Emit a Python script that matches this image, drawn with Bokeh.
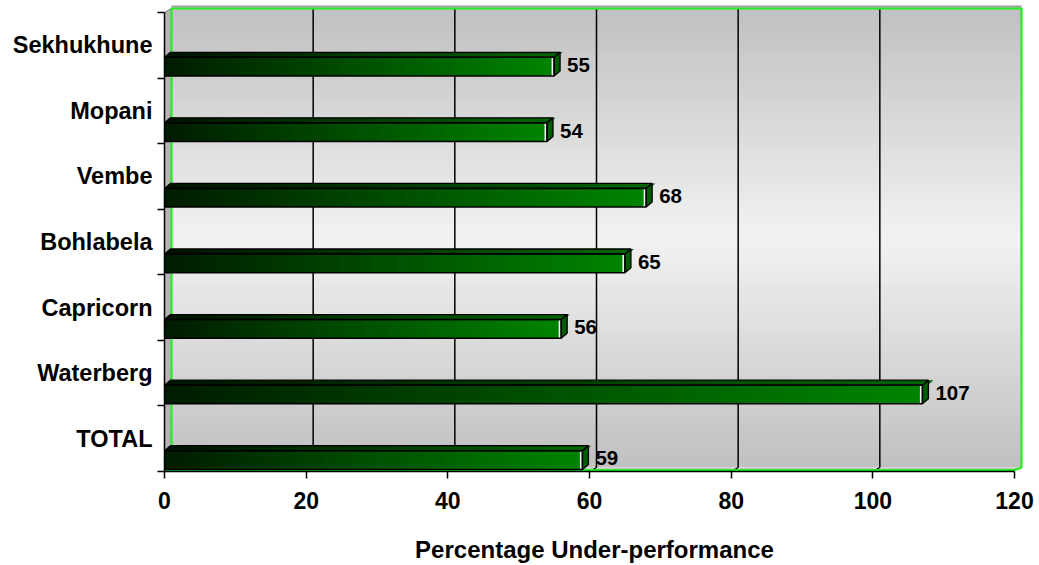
import numpy as np
from bokeh.plotting import figure
from bokeh.models import Range1d, FixedTicker
from bokeh.embed import file_html
from bokeh.resources import INLINE
from bokeh.core.properties import value

# ---- data -------------------------------------------------------------
districts = ["TOTAL", "Waterberg", "Capricorn", "Bohlabela", "Vembe", "Mopani", "Sekhukhune"]
underperformance = [59, 107, 56, 65, 68, 54, 55]
x_ticks = [0, 20, 40, 60, 80, 100, 120]
x_title = "Percentage Under-performance"

# ---- geometry ---------------------------------------------------------
W, H = 1039, 565
LEFT, RIGHT_PAD, TOP, BOTTOM = 164, 15, 4, 94
X_MAX = x_ticks[-1]
AXIS_PX = 850                      # pixels between 0 and X_MAX
px_x = AXIS_PX / X_MAX
frame_w = W - LEFT - RIGHT_PAD
n = len(districts)
px_y = 459 / n                     # pixels per category band
frame_h = H - TOP - BOTTOM
y0 = -0.5
x_end = frame_w / px_x
y_end = y0 + frame_h / px_y

# 3-D depth offsets (pixels converted to data units)
WALL_DX, WALL_DY = 7 / px_x, 4 / px_y
BAR_DX, BAR_DY = 6 / px_x, 5 / px_y
FACE_LO, FACE_HI = 0.468, 0.183    # front face below the band centre

FONT = "Liberation Sans"


def hex2rgb(h):
    h = h.lstrip("#")
    return np.array([int(h[i:i + 2], 16) for i in (0, 2, 4)], dtype=float)


def lerp(c1, c2, t):
    a, b = hex2rgb(c1), hex2rgb(c2)
    c = np.clip(np.round(a + (b - a) * t), 0, 255).astype(int)
    return "#%02x%02x%02x" % tuple(c)


p = figure(width=W, height=H, output_backend="svg", toolbar_location=None,
           x_range=Range1d(0, x_end), y_range=Range1d(y0, y_end),
           min_border_left=LEFT, min_border_right=RIGHT_PAD,
           min_border_top=TOP, min_border_bottom=BOTTOM)
p.outline_line_color = None
p.background_fill_color = "white"
p.border_fill_color = "white"
p.xgrid.visible = False
p.ygrid.visible = False

# ---- back wall with vertical grey-white-grey shading ------------------
wall_b, wall_t = y0 + WALL_DY, n - 0.5 + WALL_DY
wall_l, wall_r = WALL_DX, X_MAX + WALL_DX
NS = 90
edges = np.linspace(wall_b, wall_t, NS + 1)
mids = (edges[:-1] + edges[1:]) / 2
tt = (mids - wall_b) / (wall_t - wall_b)
shade = [lerp("#c0c0c0", "#f2f2f2", 1 - abs(2 * t - 1)) for t in tt]
step = edges[1] - edges[0]
p.quad(left=wall_l, right=wall_r, bottom=edges[:-1], top=edges[1:] + step * 0.3,
       fill_color=shade, line_color=None)

# left side wall and floor seen edge-on
p.patch([0, 0, WALL_DX, WALL_DX], [y0, n - 0.5, wall_t, wall_b],
        fill_color="#b4b4b4", line_color="#6e6e6e", line_width=1)
p.patch([0, X_MAX, wall_r, wall_l], [y0, y0, wall_b, wall_b],
        fill_color="#c8c8c8", line_color=None)

# vertical gridlines on the wall and on the floor
grid_x = x_ticks[1:-1]
p.segment(x0=[t + WALL_DX for t in grid_x], y0=wall_b,
          x1=[t + WALL_DX for t in grid_x], y1=wall_t,
          line_color="black", line_width=1.5)
p.segment(x0=[t + WALL_DX for t in grid_x], y0=wall_b,
          x1=grid_x, y1=y0, line_color="black", line_width=1.2)

# wall rim
rim = 2 / px_y
p.line([wall_l, wall_r], [wall_t + rim, wall_t + rim], line_color="#a0a0a0", line_width=2)
p.line([wall_l, wall_l, wall_r, wall_r, X_MAX, 0],
       [wall_b, wall_t, wall_t, wall_b, y0 + 1.5 / px_y, y0 + 1.5 / px_y],
       line_color="#22ee22", line_width=2.2)

# ---- 3-D bars ---------------------------------------------------------
NB = 60
for i, v in enumerate(underperformance):
    yb, yt = i - FACE_LO, i - FACE_HI
    xe = np.linspace(0, v, NB + 1)
    tb = (np.arange(NB) + 0.5) / NB
    front = [lerp("#001c00", "#008400", t) for t in tb]
    topc = [lerp("#001400", "#006400", t) for t in tb]
    ov = (xe[1] - xe[0]) * 0.4
    # top face
    p.patches([[xe[k], xe[k + 1] + ov, xe[k + 1] + ov + BAR_DX, xe[k] + BAR_DX] for k in range(NB)],
              [[yt, yt, yt + BAR_DY, yt + BAR_DY] for _ in range(NB)],
              fill_color=topc, line_color=None)
    # front face
    p.quad(left=xe[:-1], right=np.minimum(xe[1:] + ov, v), bottom=yb, top=yt,
           fill_color=front, line_color=None)
    # highlight strip at the end of the front face
    p.quad(left=[v - 2.5 / px_x], right=[v], bottom=[yb], top=[yt],
           fill_color="#f4f4f4", line_color=None)
    # end face
    p.patch([v, v + BAR_DX, v + BAR_DX, v], [yb, yb + BAR_DY, yt + BAR_DY, yt],
            fill_color="#005c00", line_color="black", line_width=1.3)
    # outlines
    p.patch([0, v, v + BAR_DX, BAR_DX], [yt, yt, yt + BAR_DY, yt + BAR_DY],
            fill_color=None, line_color="black", line_width=1.3)
    p.quad(left=[0], right=[v], bottom=[yb], top=[yt],
           fill_color=None, line_color="black", line_width=1.5)

# value labels
p.text(x=underperformance, y=[i - 0.30 for i in range(n)],
       text=[str(v) for v in underperformance],
       x_offset=13, text_align="left", text_baseline="middle",
       text_font=value(FONT), text_font_style="bold", text_font_size="20.5px",
       text_color="black")

# ---- axes -------------------------------------------------------------
xa = p.xaxis[0]
xa.ticker = FixedTicker(ticks=x_ticks, minor_ticks=[])
xa.bounds = (0, X_MAX)
xa.axis_line_color = "black"
xa.axis_line_width = 1.5
xa.major_tick_line_color = "black"
xa.major_tick_line_width = 1.5
xa.major_tick_in = 0
xa.major_tick_out = 7
xa.minor_tick_line_color = None
xa.major_label_text_font = FONT
xa.major_label_text_font_style = "bold"
xa.major_label_text_font_size = "23px"
xa.major_label_text_color = "black"
xa.major_label_standoff = 13
xa.axis_label = x_title
xa.axis_label_text_font = FONT
xa.axis_label_text_font_style = "bold"
xa.axis_label_text_font_size = "24px"
xa.axis_label_text_color = "black"
xa.axis_label_standoff = 24

ya = p.yaxis[0]
ya.ticker = FixedTicker(ticks=list(range(n)), minor_ticks=[k - 0.5 for k in range(n + 1)])
ya.major_label_overrides = {i: name for i, name in enumerate(districts)}
ya.bounds = (y0, n - 0.5)
ya.axis_line_color = "black"
ya.axis_line_width = 1.5
ya.major_tick_in = 0
ya.major_tick_out = 0
ya.minor_tick_line_color = "black"
ya.minor_tick_line_width = 1.5
ya.minor_tick_in = 0
ya.minor_tick_out = 7
ya.major_label_text_font = FONT
ya.major_label_text_font_style = "bold"
ya.major_label_text_font_size = "23.5px"
ya.major_label_text_color = "black"
ya.major_label_standoff = 5

open("out.html", "w").write(file_html(p, INLINE))
